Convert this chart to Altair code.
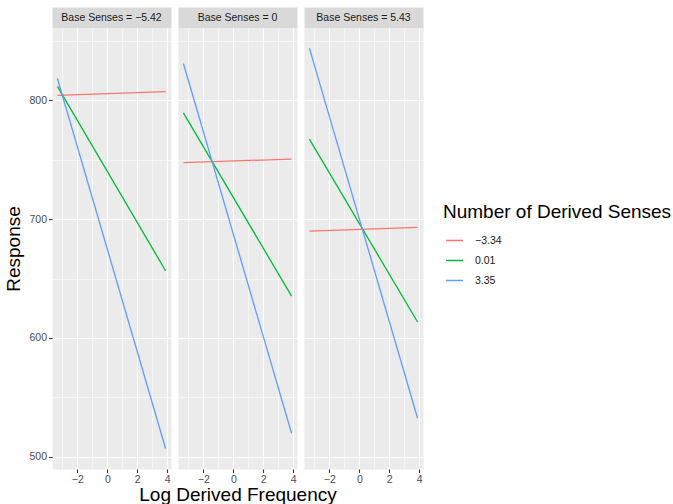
import altair as alt
import pandas as pd

FONT = "Liberation Sans"

# ---- data ----
base_labels = ["Base Senses = \u22125.42", "Base Senses = 0", "Base Senses = 5.43"]
derived_levels = ["\u22123.34", "0.01", "3.35"]
line_colors = ["#F8766D", "#00BA38", "#619CFF"]
freq_ends = [-3.33, 3.89]  # Log Derived Frequency at start / end of each line

# Response at the start and end of each line (order follows derived_levels)
panel1_start = [804.2, 811.7, 818.4]
panel1_end = [807.4, 656.6, 507.0]
panel2_start = [747.6, 789.4, 831.0]
panel2_end = [750.6, 635.2, 519.8]
panel3_start = [690.0, 767.3, 844.0]
panel3_end = [693.0, 613.4, 532.4]

x_ticks = [-3, -2, -1, 0, 1, 2, 3, 4]
y_ticks = [500, 550, 600, 650, 700, 750, 800, 850]
x_domain = [-3.691, 4.251]
y_domain = [489.7, 860.9]

starts = [panel1_start, panel2_start, panel3_start]
ends = [panel1_end, panel2_end, panel3_end]

rows = []
for p, lab in enumerate(base_labels):
    for j, lev in enumerate(derived_levels):
        rows.append({"base": lab, "derived": lev, "order": j, "freq": freq_ends[0], "resp": starts[p][j]})
        rows.append({"base": lab, "derived": lev, "order": j, "freq": freq_ends[1], "resp": ends[p][j]})
df = pd.DataFrame(rows)

PW, PH, SH = 119, 441, 21


def x_axis(title):
    kw = dict(
        values=x_ticks,
        labelExpr="datum.value % 2 === 0 ? datum.label : ''",
        grid=True,
        gridColor="white",
        gridWidth={"condition": {"test": "datum.value % 2 !== 0", "value": 0.55}, "value": 1.1},
        tickOpacity={"condition": {"test": "datum.value % 2 !== 0", "value": 0}, "value": 1},
        tickColor="#333333",
        tickSize=3.5,
        tickWidth=1.1,
        domain=False,
        labelFont=FONT,
        labelFontSize=10.5,
        labelColor="#4D4D4D",
        labelPadding=1.5,
        labelFlush=False,
        labelOverlap=False,
        titleFont=FONT,
        titleFontSize=19,
        titleFontWeight="normal",
        titleColor="black",
        titlePadding=1,
        title=title if title else "",
    )
    return alt.Axis(**kw)


def y_axis(show):
    kw = dict(
        values=y_ticks,
        grid=True,
        gridColor="white",
        gridWidth={"condition": {"test": "datum.value % 100 !== 0", "value": 0.55}, "value": 1.1},
        domain=False,
    )
    if show:
        kw.update(
            labelExpr="datum.value % 100 === 0 ? datum.label : ''",
            tickOpacity={"condition": {"test": "datum.value % 100 !== 0", "value": 0}, "value": 1},
            tickColor="#333333",
            tickSize=3.5,
            tickWidth=1.1,
            labelFont=FONT,
            labelFontSize=10.5,
            labelColor="#4D4D4D",
            labelPadding=2,
            labelFlush=False,
            labelOverlap=False,
            title="Response",
            titleFont=FONT,
            titleFontSize=19,
            titleFontWeight="normal",
            titleColor="black",
            titlePadding=5,
        )
    else:
        kw.update(labels=False, ticks=False, title="")
    return alt.Axis(**kw)


strips = []
panels = []
for p, lab in enumerate(base_labels):
    strip = (
        alt.Chart(pd.DataFrame({"label": [lab]}))
        .mark_text(font=FONT, fontSize=10.5, color="#1A1A1A", baseline="middle", align="center")
        .encode(text="label:N", x=alt.value(PW / 2), y=alt.value(SH / 2 + 0.5))
        .properties(width=PW, height=SH, view=alt.ViewBackground(fill="#D9D9D9", stroke="transparent"))
    )
    strips.append(strip)

    panel = (
        alt.Chart(df[df["base"] == lab])
        .mark_line(strokeWidth=1.3, clip=True)
        .encode(
            x=alt.X("freq:Q", scale=alt.Scale(domain=x_domain, nice=False, zero=False),
                    axis=x_axis("Log Derived Frequency" if p == 1 else None)),
            y=alt.Y("resp:Q", scale=alt.Scale(domain=y_domain, nice=False, zero=False),
                    axis=y_axis(p == 0)),
            color=alt.Color(
                "derived:N",
                scale=alt.Scale(domain=derived_levels, range=line_colors),
                legend=alt.Legend(
                    title="Number of Derived Senses",
                    orient="none",
                    legendX=391,
                    legendY=196,
                    titleFont=FONT,
                    titleFontSize=19,
                    titleFontWeight="normal",
                    titleColor="black",
                    titleLimit=400,
                    titlePadding=9,
                    labelFont=FONT,
                    labelFontSize=10.5,
                    labelColor="#1A1A1A",
                    labelOffset=11,
                    symbolType="stroke",
                    symbolSize=289,
                    symbolStrokeWidth=1.5,
                    rowPadding=5,
                    symbolOffset=2,
                ),
            ),
            order=alt.Order("order:Q"),
        )
        .properties(width=PW, height=PH, view=alt.ViewBackground(fill="#EBEBEB", stroke="transparent"))
    )
    panels.append(panel)

chart = (
    alt.concat(*strips, *panels, columns=3, spacing={"row": 0, "column": 7}, bounds="flush")
    .properties(padding={"left": 4, "top": 6, "right": 0, "bottom": 0})
    .configure(background="white")
)

chart.save("out.html", embed_options={"renderer": "svg", "actions": False})
